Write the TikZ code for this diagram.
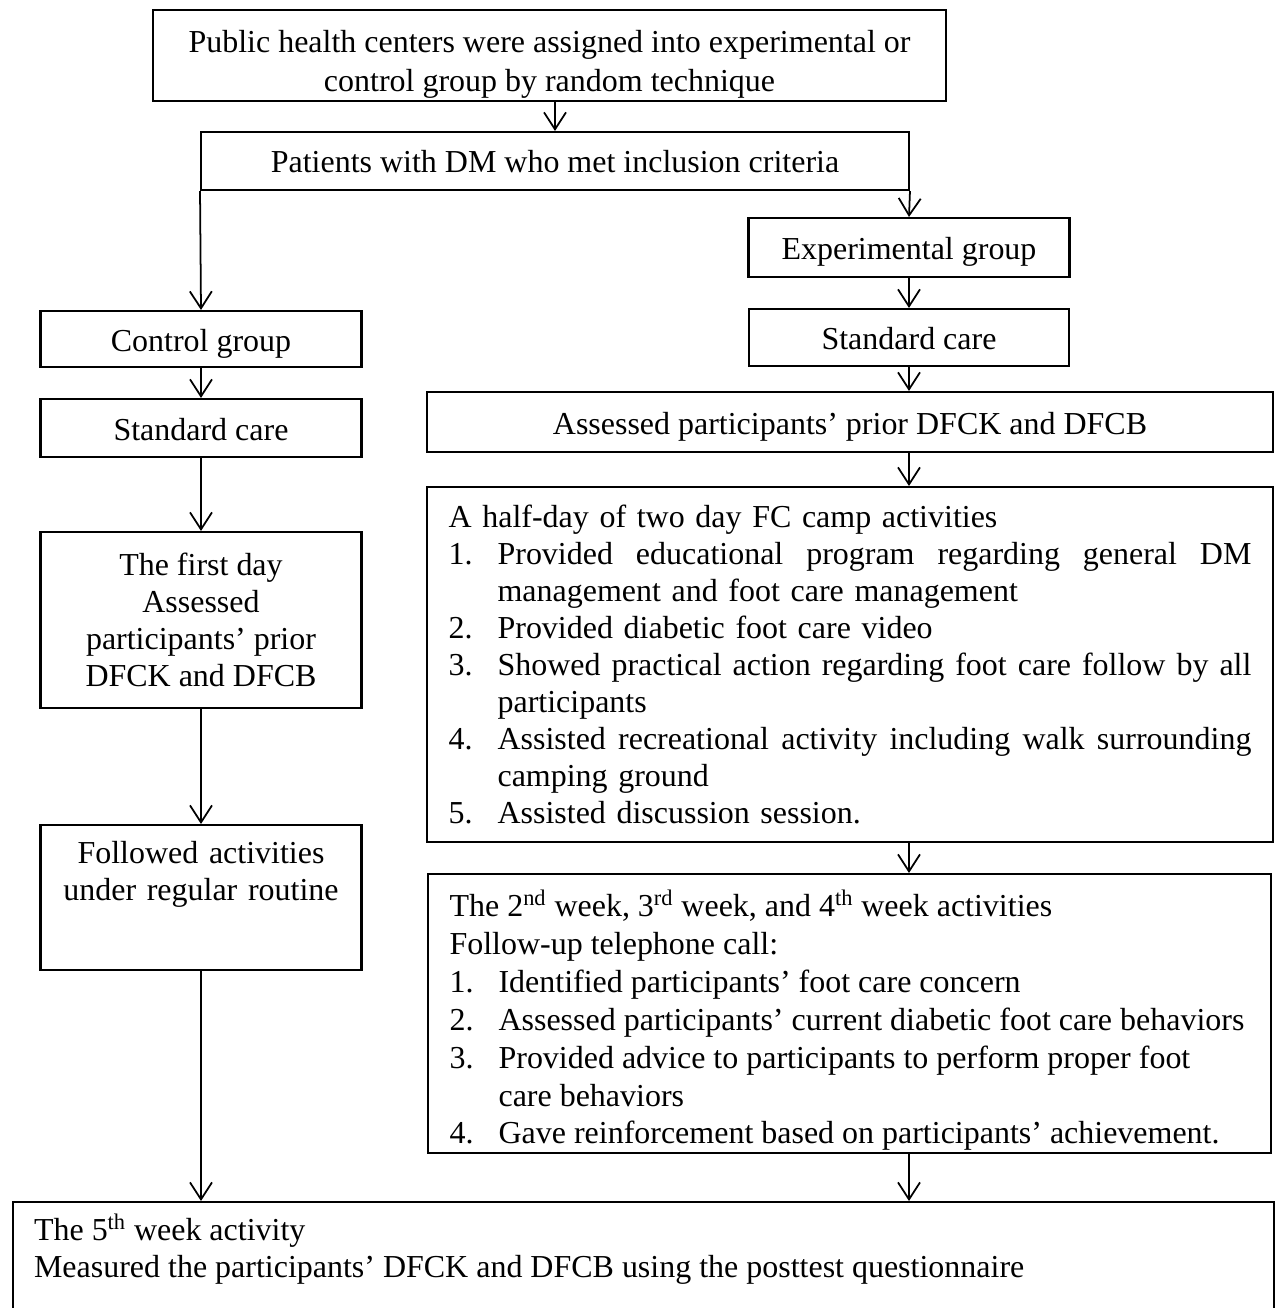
\documentclass[tikz,border=0pt]{standalone}
\usepackage{fontspec}
\setmainfont{Liberation Serif}
\usetikzlibrary{arrows.meta}

% Small helpers for the text in the boxes
\newcommand{\ordsup}[1]{\smash{\textsuperscript{#1}}}
\newcommand{\stepitem}[2]{\par\hangindent=0.98cm\hangafter=1\noindent\makebox[0.98cm][l]{#1}#2}
\newcommand{\fullline}[1]{{\spaceskip=0.25em plus 1fil\makebox[15.08cm][s]{#1}}}

\tikzset{
    box/.style={draw, line width=1.2pt, inner sep=0pt, align=center},
    onebox/.style={box, text height=0.62cm, text depth=0.14cm},
    longbox/.style={draw, line width=1.2pt, inner xsep=0.43cm, inner ysep=0pt},
    openbox/.style={draw, line width=1.2pt, inner xsep=0.42cm, inner ysep=0.32cm, text depth=1.82cm},
    flow/.style={line width=1pt, -{Straight Barb[length=0.34cm,width=0.44cm]}}
}

\begin{document}
\begin{tikzpicture}[x=0.02cm, y=-0.02cm, font=\fontsize{18.2}{21}\selectfont]

    % Page frame
    \useasboundingbox (0,0) rectangle (1280,1308);
    \clip (0,0) rectangle (1280,1308);

    % Top boxes
    \node[box, minimum width=15.86cm, minimum height=1.82cm, text height=1.58cm,
          font=\fontsize{18.2}{22.5}\selectfont] (top) at (549.5,55.5)
        {Public health centers were assigned into experimental or\\control group by random technique};
    \node[onebox, minimum width=14.16cm, minimum height=1.16cm] (pat) at (555,161)
        {Patients with DM who met inclusion criteria};

    % Control group column
    \node[onebox, minimum width=6.42cm, minimum height=1.12cm] (ctrl) at (201,339) {Control group};
    \node[onebox, minimum width=6.42cm, minimum height=1.16cm] (stdL) at (201,428) {Standard care};
    \node[box, minimum width=6.42cm, minimum height=3.52cm] (first) at (201,620)
        {The first day\\Assessed\\participants’ prior\\DFCK and DFCB};
    \node[openbox, align=center, text width=5.58cm, anchor=north] (follow) at (201,824)
        {Followed activities\\under regular routine};

    % Experimental group column
    \node[onebox, minimum width=6.42cm, minimum height=1.18cm] (exp) at (909,247.5) {Experimental group};
    \node[onebox, minimum width=6.4cm, minimum height=1.14cm] (stdR) at (909,337.5) {Standard care};
    \node[onebox, minimum width=16.92cm, minimum height=1.2cm] (assess) at (850,422)
        {Assessed participants’ prior DFCK and DFCB};

    % Camp activities
    \node[longbox, text width=16.06cm, minimum height=7.1cm] (camp) at (850,664.5) {%
        A half-day of two day FC camp activities
        \stepitem{1.}{\fullline{Provided educational program regarding general DM}\newline management and foot care management}
        \stepitem{2.}{Provided diabetic foot care video}
        \stepitem{3.}{\fullline{Showed practical action regarding foot care follow by all}\newline participants}
        \stepitem{4.}{\fullline{Assisted recreational activity including walk surrounding}\newline camping ground}
        \stepitem{5.}{Assisted discussion session.}};

    % Telephone follow-up
    \node[longbox, align=flush left, text width=16cm, minimum height=5.58cm, text height=0.8cm,
          font=\fontsize{18.2}{21.6}\selectfont] (weeks) at (849.5,1013.5) {%
        The 2\ordsup{nd} week, 3\ordsup{rd} week, and 4\ordsup{th} week activities\newline
        Follow-up telephone call:
        \stepitem{1.}{Identified participants’ foot care concern}
        \stepitem{2.}{Assessed participants’ current diabetic foot care behaviors}
        \stepitem{3.}{Provided advice to participants to perform proper foot\newline care behaviors}
        \stepitem{4.}{Gave reinforcement based on participants’ achievement.}};

    % Posttest box
    \node[openbox, align=flush left, text width=24.38cm, anchor=north west] (post) at (12,1201)
        {The 5\ordsup{th} week activity\\Measured the participants’ DFCK and DFCB using the posttest questionnaire};

    % Arrows
    \draw[flow] (pat.north |- top.south) -- (pat.north);
    \draw[flow] (pat.south west) -- (ctrl.north);
    \draw[flow] (pat.south east) -- (exp.north);

    \draw[flow] (ctrl.south) -- (stdL.north);
    \draw[flow] (stdL.south) -- (first.north);
    \draw[flow] (first.south) -- (follow.north);
    \draw[flow] (follow.south) -- (follow.south |- post.north);

    \draw[flow] (exp.south) -- (stdR.north);
    \draw[flow] (stdR.south) -- (stdR.south |- assess.north);
    \draw[flow] (assess.south -| stdR.south) -- (camp.north -| stdR.south);
    \draw[flow] (camp.south -| stdR.south) -- (weeks.north -| stdR.south);
    \draw[flow] (weeks.south -| stdR.south) -- (post.north -| stdR.south);

\end{tikzpicture}
\end{document}
